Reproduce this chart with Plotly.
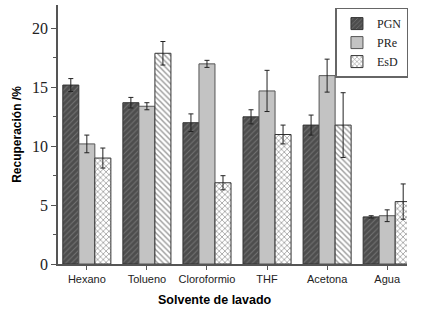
import plotly.graph_objects as go

categories = ["Hexano", "Tolueno", "Cloroformio", "THF", "Acetona", "Agua"]
pgn = [15.2, 13.7, 12.0, 12.5, 11.8, 4.0]
pgn_err = [0.55, 0.45, 0.75, 0.6, 0.85, 0.1]
pre = [10.2, 13.4, 17.0, 14.7, 16.0, 4.1]
pre_err = [0.75, 0.3, 0.3, 1.75, 1.4, 0.5]
esd = [9.0, 17.9, 6.9, 11.0, 11.8, 5.3]
esd_err = [0.85, 1.0, 0.6, 0.8, 2.75, 1.5]
esd_shapes = ["x", "\\", "x", "x", "\\", "x"]

x = list(range(len(categories)))
line_col = "#333333"
err = dict(type="data", thickness=1, width=2.5, color="#222222")

fig = go.Figure()
fig.add_trace(go.Bar(
    name="PGN", x=x, y=pgn,
    error_y=dict(array=pgn_err, **err),
    marker=dict(color="#4d4d4d", line=dict(color=line_col, width=1),
                pattern=dict(shape="/", fgcolor="#9a9a9a", bgcolor="#4d4d4d",
                             size=4, solidity=0.25, fillmode="overlay")),
))
fig.add_trace(go.Bar(
    name="PRe", x=x, y=pre,
    error_y=dict(array=pre_err, **err),
    marker=dict(color="#c3c3c3", line=dict(color="#555555", width=1)),
))
fig.add_trace(go.Bar(
    name="EsD", x=x, y=esd,
    error_y=dict(array=esd_err, **err),
    marker=dict(color="white", line=dict(color=line_col, width=1),
                pattern=dict(shape=esd_shapes, fgcolor="#333333", bgcolor="white",
                             size=4, solidity=0.35, fillmode="overlay")),
))

fig.update_layout(
    width=429, height=313,
    margin=dict(l=58, r=22, t=5, b=49),
    paper_bgcolor="white", plot_bgcolor="white",
    barmode="group", bargap=0.2, bargroupgap=0,
    showlegend=True,
    legend=dict(x=0.795, y=0.99, xanchor="left", yanchor="top",
                bgcolor="white", bordercolor="#666666", borderwidth=1.5,
                font=dict(family="Liberation Serif", size=12, color="#222222"),
                tracegroupgap=0, itemwidth=30),
    annotations=[dict(text="<b>Solvente de lavado</b>", xref="paper", yref="paper",
                      x=0.45, y=-0.139, xanchor="center", yanchor="middle",
                      showarrow=False,
                      font=dict(family="Liberation Sans", size=12.5, color="black"))],
)
fig.update_xaxes(
    range=[-0.48, 5.33], tickmode="array", tickvals=x, ticktext=categories,
    showline=True, linecolor="#555555", linewidth=1.5,
    ticks="outside", ticklen=4, tickcolor="#555555",
    tickfont=dict(family="Liberation Sans", size=11, color="#222222"),
    showgrid=False, zeroline=False,
)
fig.update_yaxes(
    range=[0, 22], tickmode="array", tickvals=[0, 5, 10, 15, 20],
    showline=True, linecolor="#555555", linewidth=1.5,
    ticks="outside", ticklen=5, tickcolor="#555555",
    minor=dict(tickvals=[2.5, 7.5, 12.5, 17.5], ticks="outside", ticklen=3, tickcolor="#555555"),
    tickfont=dict(family="Liberation Serif", size=16, color="#222222"),
    title=dict(text="<b>Recuperación /%</b>", standoff=8,
               font=dict(family="Liberation Sans", size=12, color="black")),
    showgrid=False, zeroline=False,
)

fig.write_html("out.html", config={"displayModeBar": False},
               post_script="document.body.style.margin='0';")
